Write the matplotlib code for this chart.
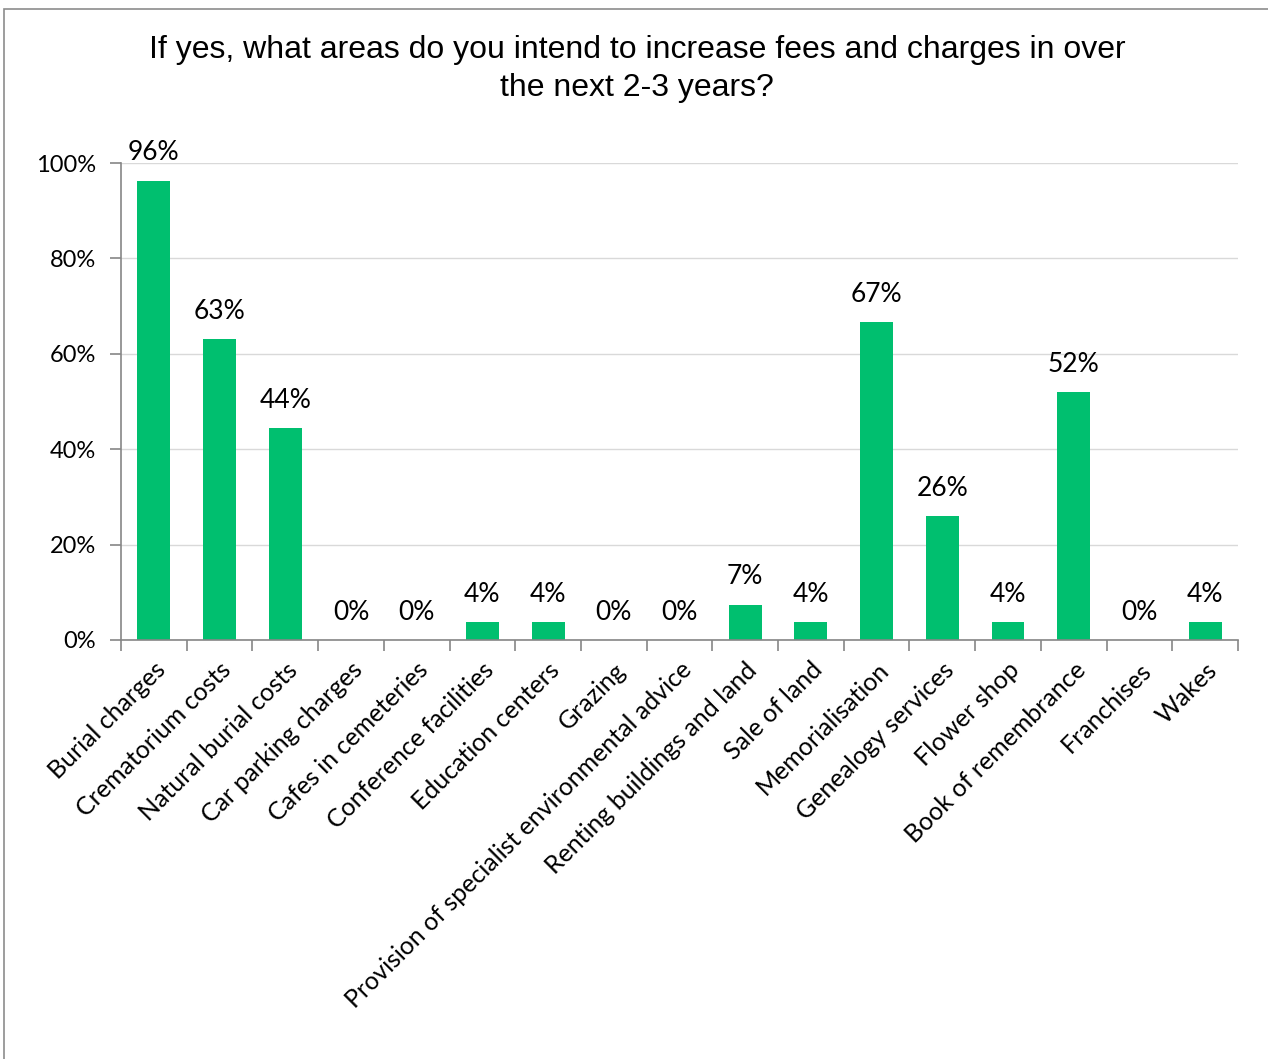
import matplotlib
matplotlib.use("Agg")
import matplotlib.pyplot as plt
from matplotlib.patches import Rectangle
from matplotlib.ticker import FuncFormatter, FixedLocator

categories = [
    "Burial charges", "Crematorium costs", "Natural burial costs",
    "Car parking charges", "Cafes in cemeteries", "Conference facilities",
    "Education centers", "Grazing", "Provision of specialist environmental advice",
    "Renting buildings and land", "Sale of land", "Memorialisation",
    "Genealogy services", "Flower shop", "Book of remembrance",
    "Franchises", "Wakes",
]
values = [96.3, 63.0, 44.4, 0.0, 0.0, 3.7, 3.7, 0.0, 0.0, 7.4, 3.7,
          66.7, 25.9, 3.7, 51.9, 0.0, 3.7]
y_ticks = [0, 20, 40, 60, 80, 100]
title = "If yes, what areas do you intend to increase fees and charges in over\nthe next 2-3 years?"

BAR = "#00BF6F"
AXIS = "#868686"
GRID = "#D9D9D9"
label_font = ["Lato", "DejaVu Sans"]

fig = plt.figure(figsize=(12.68, 10.59), dpi=100)
fig.patch.set_facecolor("white")

# outer chart frame (runs off the right and bottom edges)
fig.patches.append(Rectangle((4 / 1268, -0.01), 1.1, 1 - 9 / 1059 + 0.01,
                             transform=fig.transFigure, fill=False,
                             edgecolor="#8C8C8C", linewidth=1.2))

ax = fig.add_axes([121 / 1268, 1 - 640 / 1059, (1238 - 121) / 1268, (640 - 163) / 1059])

x = list(range(len(categories)))
ax.bar(x, values, width=0.5, color=BAR, zorder=3)

for xi, v in zip(x, values):
    ax.annotate(f"{v:.0f}%", (xi, v), xytext=(0, 20), textcoords="offset points",
                ha="center", va="center", fontsize=19, family=label_font,
                color="black")

ax.set_xlim(-0.5, len(categories) - 0.5)
ax.set_ylim(0, 100)
ax.set_yticks(y_ticks)
ax.yaxis.set_major_formatter(FuncFormatter(lambda v, p: f"{v:.0f}%"))
ax.grid(axis="y", color=GRID, linewidth=1.0, zorder=0)

ax.set_xticks(x)
ax.set_xticklabels(categories, rotation=45, ha="right", va="top",
                   rotation_mode="anchor", fontsize=18, family=label_font)
ax.xaxis.set_minor_locator(FixedLocator([i - 0.5 for i in range(len(categories) + 1)]))
ax.tick_params(axis="x", which="major", length=0, pad=13)
ax.tick_params(axis="x", which="minor", length=8, width=1.2, color=AXIS)
ax.tick_params(axis="y", length=8, width=1.2, color=AXIS, labelsize=17, pad=10)
for lab in ax.get_yticklabels():
    lab.set_family(label_font)

for s in ("top", "right"):
    ax.spines[s].set_visible(False)
for s in ("left", "bottom"):
    ax.spines[s].set_color(AXIS)
    ax.spines[s].set_linewidth(1.2)
ax.spines["bottom"].set_zorder(4)

fig.text(637 / 1268, 1 - 69 / 1059, title, ha="center", va="center",
         fontsize=23, family=["Liberation Sans", "DejaVu Sans"],
         linespacing=1.32)

fig.savefig("out.png", dpi=100, facecolor="white")
